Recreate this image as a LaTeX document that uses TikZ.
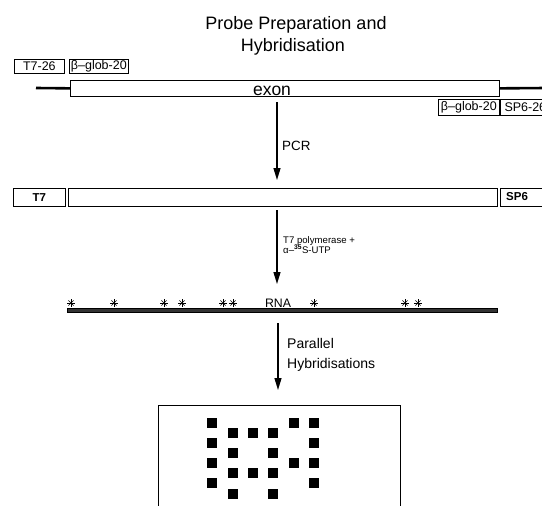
\documentclass[tikz,border=0pt]{standalone}
\usepackage{fontspec}
\setmainfont{Liberation Sans}
\usetikzlibrary{arrows.meta}
\begin{document}
\begin{tikzpicture}[x=1pt,y=-1pt,
  boxed/.style={draw,line width=0.7pt,inner sep=0pt,anchor=north west},
  small/.style={font=\fontsize{12.5}{14}\selectfont},
  flow/.style={line width=1.3pt,-{Triangle[width=7pt,length=12pt]}},
  spot/.style={fill=black,minimum size=10pt,inner sep=0pt},
  lbl/.style={inner sep=0pt,anchor=base west},
  starmark/.pic={\foreach \a in {0,45,90,135}{\draw[line width=0.7pt] (\a:3.6pt) -- (\a+180:3.6pt);}}
]
\useasboundingbox (0,0) rectangle (542,506);
\clip (0,0) rectangle (542,506);
\fill[white] (0,0) rectangle (542,506);

% title
\node[inner sep=0pt,anchor=base,font=\fontsize{18}{22}\selectfont] (title1) at (296,29) {Probe Preparation and};
\node[inner sep=0pt,anchor=base,font=\fontsize{18}{22}\selectfont] (title2) at (293,51.5) {Hybridisation};

% primers, top row
\node[boxed,small,minimum width=50pt,minimum height=14pt] (t726) at (14,59) {T7-26};
\node[boxed,small,minimum width=59pt,minimum height=14pt] (bg1) at (69,59) {β–glob-20};

% exon
\node[boxed,minimum width=429pt,minimum height=16pt] (exon) at (70,80) {};
\node[inner sep=0pt,anchor=base,font=\fontsize{17.5}{20}\selectfont] (exonlab) at (272,95.5) {exon};
\coordinate (lend) at (36,88);
\coordinate (rend) at (546,88);
\draw[line width=2.6pt] (lend) -- (exon.west);
\draw[line width=2.6pt] (exon.east) -- (rend);

\node[boxed,small,minimum width=61pt,minimum height=16pt] (bg2) at (438,99) {β–glob-20};
\node[boxed,small,minimum width=50pt,minimum height=16pt] (sp626) at (500,99) {SP6-26};

% arrow 1
\coordinate (a1top) at (277,102);
\node[lbl,font=\fontsize{13.4}{15}\selectfont] (pcr) at (282,150) {PCR};

% PCR product row
\node[boxed,minimum width=52pt,minimum height=18pt,font=\fontsize{11.5}{13}\selectfont\bfseries] (t7) at (13,188) {T7};
\node[boxed,minimum width=429pt,minimum height=18pt] (long) at (68,188) {};
\node[boxed,minimum width=50pt,minimum height=18pt] (sp6) at (500,188) {};
\node[inner sep=0pt,anchor=west,font=\fontsize{11.5}{13}\selectfont\bfseries] (sp6t) at (506,197) {SP6};
\draw[flow] (a1top) -- ([yshift=8pt]long.north -| a1top);

% arrow 2
\coordinate (a2top) at (277,210);
\coordinate (a2end) at (277,284);
\draw[flow] (a2top) -- (a2end);
\node[lbl,font=\fontsize{9.6}{11}\selectfont] (poly) at (283,243) {T7 polymerase +};
\node[lbl,font=\fontsize{9.6}{11}\selectfont] (utp) at (283,253.5) {α–\textsuperscript{\bfseries 35}S-UTP};

% RNA
\node[draw,fill=black!80,line width=0.6pt,minimum width=430pt,minimum height=4.5pt,inner sep=0pt,anchor=west] (rna) at (67,310.5) {};
\node[inner sep=0pt,anchor=base,font=\fontsize{12.3}{14}\selectfont] (rnalab) at (278,307) {RNA};
\foreach \x in {71,114,164,182,223,233,314,405,418}{
  \pic at (\x,303) {starmark};
}

% arrow 3
\coordinate (a3top) at (278,323);
\node[lbl,font=\fontsize{14}{16}\selectfont] (par) at (287,348) {Parallel};
\node[lbl,font=\fontsize{14}{16}\selectfont] (hyb) at (287,368) {Hybridisations};

% plate
\node[boxed,minimum width=242pt,minimum height=120pt] (plate) at (158,405) {};
\draw[flow] (a3top) -- ([yshift=15pt]plate.north -| a3top);

% spots
\foreach \c/\r [count=\i] in {1/1,5/1,6/1,2/2,3/2,4/2,1/3,6/3,2/4,4/4,1/5,5/5,6/5,2/6,3/6,4/6,1/7,6/7,2/8,4/8}{
  \pgfmathsetmacro{\xx}{{211.7,232.7,253.3,273.3,294,314.3}[\c-1]}
  \pgfmathsetmacro{\yy}{{422.7,432.7,442.7,453.3,463.3,473.3,483.3,494}[\r-1]}
  \node[spot] (s\i) at (\xx,\yy) {};
}
\end{tikzpicture}
\end{document}
